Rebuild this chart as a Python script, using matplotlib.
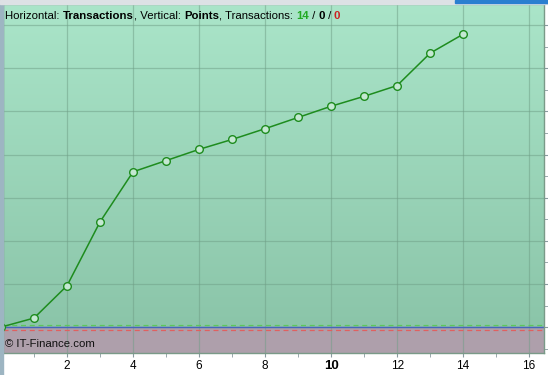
import numpy as np
from matplotlib import pyplot as plt
from matplotlib.ticker import MultipleLocator
from matplotlib.transforms import offset_copy

trades = list(range(15))
points = [0, 21, 96, 244, 360, 386, 412, 435, 460, 486, 512, 535, 560, 635, 679]
x_labels = ['2', '4', '6', '8', '10', '12', '14', '16']

plt.rcParams['font.family'] = ['Liberation Sans', 'DejaVu Sans']

fig = plt.figure(figsize=(5.48, 3.75), dpi=100, facecolor='white')
# left strip and top strip of the window
fig.patches.append(plt.Rectangle((0, 0), 3 / 548, 1, transform=fig.transFigure,
                                 color='#9db5c2', zorder=0))
fig.patches.append(plt.Rectangle((0, 1 - 4 / 375), 1, 4 / 375, transform=fig.transFigure,
                                 color='#dde1e5', zorder=0))
fig.patches.append(plt.Rectangle((0.83, 1 - 3 / 375), 0.17, 3 / 375, transform=fig.transFigure,
                                 color='#2a7fd0', zorder=1))

ax = fig.add_axes([3 / 548, 22 / 375, 541 / 548, 349 / 375])
xmin, xmax = 0.06, 16.45
ymin, ymax = -60, 749
ax.set_xlim(xmin, xmax)
ax.set_ylim(ymin, ymax)

# background: gradient above zero, mauve below
grad = np.linspace(0, 1, 256).reshape(-1, 1)
top = np.array([0.667, 0.898, 0.788])
bot = np.array([0.545, 0.773, 0.663])
img = top * (1 - grad[..., None]) + bot * grad[..., None]
img = img.reshape(256, 1, 3)
ax.imshow(img, extent=[xmin, xmax, 0, ymax], aspect='auto', zorder=0)
ax.axhspan(ymin, 0, color='#ae9fab', zorder=0)

ax.xaxis.set_major_locator(MultipleLocator(2))
ax.xaxis.set_minor_locator(MultipleLocator(1))
ax.yaxis.set_major_locator(MultipleLocator(100))
ax.yaxis.set_minor_locator(MultipleLocator(50))
ax.grid(True, which='major', color='#6f9e86', alpha=0.5, linewidth=0.9, zorder=1)

ax.axhline(5, color='#5cc85c', linestyle=(0, (4, 3)), linewidth=0.9, zorder=2)
ax.axhline(-6, color='#e06060', linestyle=(0, (4, 3)), linewidth=0.9, zorder=2)
ax.axhline(0, color='#4466bb', linewidth=1.0, zorder=2)

ax.plot(trades, points, color='#1e8c1e', linewidth=1.1, marker='o', markersize=5.5,
        markerfacecolor='#c4e8d2', markeredgecolor='#1e8c1e', markeredgewidth=1.0,
        zorder=3)

ax.yaxis.tick_right()
ax.tick_params(axis='y', which='both', direction='out', length=3, colors='#8a9aa0',
               labelright=False, labelleft=False)
ax.tick_params(axis='x', which='both', direction='out', length=3, color='#8a9aa0',
               labelsize=8.5, pad=2)
ax.set_xticks([2, 4, 6, 8, 10, 12, 14, 16])
ax.set_xticklabels(x_labels)
for lbl in ax.get_xticklabels():
    if lbl.get_text() == '10':
        lbl.set_fontweight('bold')
        lbl.set_fontsize(9.5)

for s in ax.spines.values():
    s.set_color('#7a9a88')
    s.set_linewidth(1.0)

# header text, pieces placed one after another on a common baseline
parts = [('Horizontal: ', 'normal', 'black'), ('Transactions', 'bold', 'black'),
         (', Vertical: ', 'normal', 'black'), ('Points', 'bold', 'black'),
         (', Transactions: ', 'normal', 'black'), ('14', 'bold', '#22aa22'),
         (' / ', 'normal', 'black'), ('0', 'bold', 'black'),
         (' / ', 'normal', 'black'), ('0', 'bold', '#cc2222')]
fs = 8.2
fig.canvas.draw()
renderer = fig.canvas.get_renderer()


def text_width(s, weight):
    # width of s including trailing spaces: measure with and without a marker glyph
    a = fig.text(0, 0, s + 'x', fontsize=fs, fontweight=weight)
    b = fig.text(0, 0, 'x', fontsize=fs, fontweight=weight)
    w = a.get_window_extent(renderer).width - b.get_window_extent(renderer).width
    a.remove()
    b.remove()
    return w


dx = 0.0
for txt, w, c in parts:
    ax.text(0.004, 0.958, txt, fontsize=fs, fontweight=w, color=c,
            va='baseline', ha='left', zorder=5,
            transform=offset_copy(ax.transAxes, fig=fig, x=dx, y=0, units='dots'))
    dx += text_width(txt, w)

ax.text(0.004, 0.012, '\u00a9 IT-Finance.com', transform=ax.transAxes, fontsize=fs,
        color='#111111', va='bottom', ha='left', zorder=5)

plt.savefig('out.png', dpi=100)
